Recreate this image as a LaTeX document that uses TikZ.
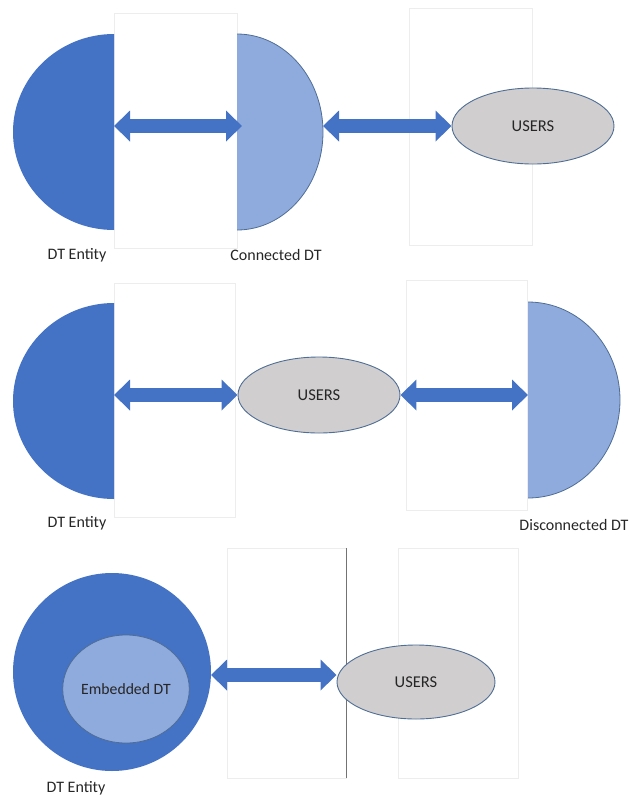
\documentclass[tikz,border=0pt]{standalone}
\usepackage{fontspec}
\setmainfont{Carlito}
\usetikzlibrary{arrows.meta,shapes.geometric}
\definecolor{dtdark}{HTML}{4472C4}
\definecolor{dtlight}{HTML}{8FAADC}
\definecolor{usergray}{HTML}{D0CECE}
\definecolor{edgeblue}{HTML}{4F6E96}
\definecolor{panelgray}{HTML}{EDEDED}
\definecolor{txt}{HTML}{262626}

\tikzset{
  panel/.style={draw=panelgray, line width=0.6pt},
  users/.style={ellipse, draw=edgeblue, fill=usergray, line width=0.9pt,
    minimum width=162pt, minimum height=76pt, inner sep=0pt,
    font=\fontsize{16.5}{19}\selectfont, text=txt},
  link/.style={draw=dtdark, line width=14pt,
    {Triangle[length=16pt,width=30pt]}-{Triangle[length=16pt,width=30pt]}},
  caption/.style={font=\fontsize{16}{19}\selectfont, text=txt, inner sep=0pt},
}

\begin{document}
\begin{tikzpicture}[x=1pt,y=-1pt]
\useasboundingbox (0,0) rectangle (629,796);

% faint frames behind the links
\draw[panel] (114,13) rectangle (237,248);
\draw[panel] (409,8) rectangle (532,245);
\draw[panel] (114,283) rectangle (235,517);
\draw[panel] (406,280) rectangle (527,510);
\draw[panel] (227,548) rectangle (346,778);
\draw[panel] (398,548) rectangle (518,778);
\draw[black!55, line width=0.8pt] (346,548) -- (346,778);

% ---- connected DT ----
\begin{scope}
  \clip (0,0) rectangle (114,270);
  \fill[dtdark] (114,132) ellipse [x radius=101pt, y radius=98pt];
\end{scope}
\begin{scope}
  \clip (237,0) rectangle (629,270);
  \filldraw[fill=dtlight, draw=edgeblue, line width=0.8pt]
    (237,132) ellipse [x radius=86pt, y radius=98pt];
\end{scope}
\coordinate (ent1) at (114,126);
\coordinate (con1l) at (242,126);
\coordinate (con1r) at (323,126);
\node[users] (u1) at (533,126) {USERS};
\draw[link] (ent1) -- (con1l);
\draw[link] (con1r) -- (u1.west);
\node[caption] (lab1) at (77,255) {DT Entity};
\node[caption] (lab2) at (276,255) {Connected DT};

% ---- disconnected DT ----
\begin{scope}
  \clip (0,270) rectangle (114,540);
  \fill[dtdark] (114,401) ellipse [x radius=101pt, y radius=98pt];
\end{scope}
\begin{scope}
  \clip (528,270) rectangle (629,540);
  \filldraw[fill=dtlight, draw=edgeblue, line width=0.8pt]
    (528,400) ellipse [x radius=92pt, y radius=98pt];
\end{scope}
\coordinate (ent2) at (114,395);
\coordinate (dis2) at (528,395);
\node[users] (u2) at (319,395) {USERS};
\draw[link] (ent2) -- (u2.west);
\draw[link] (u2.east) -- (dis2);
\node[caption] (lab3) at (77,523) {DT Entity};
\node[caption] (lab4) at (574,525) {Disconnected DT};

% ---- embedded DT ----
\node[circle, fill=dtdark, minimum size=198pt, inner sep=0pt] (ent3) at (112,672) {};
\node[ellipse, fill=dtlight, draw=edgeblue, line width=0.8pt,
  minimum width=118pt, minimum height=108pt, inner sep=0pt,
  font=\fontsize{15.7}{18}\selectfont, text=txt] (emb) at (126,689) {Embedded DT};
\coordinate (ent3r) at (211,675);
\node[users, minimum width=158pt, minimum height=74pt] (u3) at (416,682) {USERS};
\draw[link] (ent3r) -- (ent3r -| u3.west);
\node[caption] (lab5) at (76,788) {DT Entity};
\end{tikzpicture}
\end{document}
